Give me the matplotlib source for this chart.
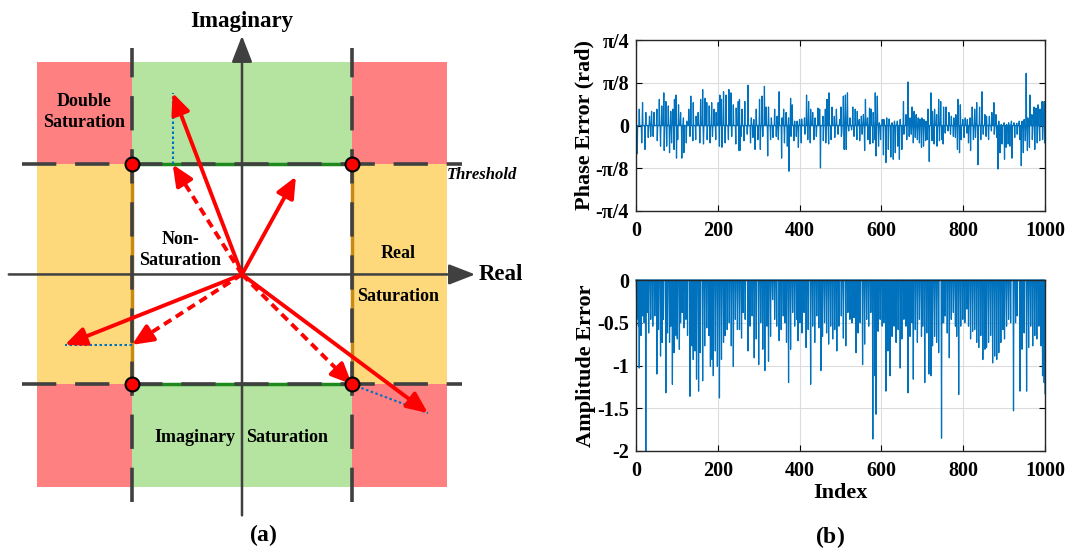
import numpy as np
import matplotlib.pyplot as plt
from matplotlib.patches import Rectangle

plt.rcParams['font.family'] = ['Liberation Serif', 'DejaVu Serif']
plt.rcParams['font.weight'] = 'bold'
plt.rcParams['axes.unicode_minus'] = False
plt.rcParams['mathtext.fontset'] = 'custom'
plt.rcParams['mathtext.rm'] = 'Liberation Serif'
plt.rcParams['mathtext.bf'] = 'Liberation Serif:bold'

# ---- (a) saturation regions in the IQ plane ----
T = 1.0                      # clipping threshold
region_x, region_y = 1.86, 1.93
vectors = np.array([[-0.63, 1.65], [0.49, 0.89], [-1.61, -0.64], [1.69, -1.26]])

# ---- (b) phase / amplitude error per sample ----
N = 1000
phase_pos_idx = [0, 8, 16, 24, 33, 38, 44, 51, 57, 63, 68, 73, 79, 85, 90, 94, 98, 104, 109, 116,
                 124, 129, 134, 140, 147, 152, 158, 163, 169, 173, 179, 185, 191, 196, 201, 205, 209,
                 214, 220, 227, 232, 238, 245, 250, 253, 259, 266, 274, 282, 288, 294, 302, 308, 314,
                 318, 324, 331, 339, 345, 350, 357, 361, 367, 373, 378, 382, 388, 394, 400, 405, 412,
                 417, 422, 427, 432, 438, 445, 449, 457, 463, 467, 472, 479, 485, 490, 498, 503, 501,
                 507, 512, 517, 523, 530, 536, 541, 546, 551, 556, 561, 566, 571, 575, 580, 585, 590,
                 595, 602, 606, 613, 619, 626, 632, 639, 646, 654, 660, 665, 670, 675, 680, 685, 690,
                 694, 699, 704, 709, 714, 721, 725, 730, 735, 740, 745, 751, 752, 758, 765, 771, 777,
                 782, 787, 793, 799, 805, 810, 817, 822, 828, 833, 840, 846, 853, 857, 864, 870, 875,
                 880, 887, 893, 900, 906, 911, 918, 924, 931, 937, 944, 949, 954, 958, 963, 968, 973,
                 978, 983, 988, 993, 998]
phase_pos_val = [0.10, 0.15, 0.21, 0.12, 0.085, 0.13, 0.12, 0.15, 0.24, 0.18, 0.30, 0.22, 0.18, 0.13,
                 0.15, 0.24, 0.28, 0.19, 0.12, 0.07, 0.04, 0.15, 0.27, 0.21, 0.085, 0.12, 0.24, 0.33,
                 0.25, 0.21, 0.18, 0.21, 0.15, 0.12, 0.21, 0.28, 0.24, 0.31, 0.28, 0.33, 0.30, 0.19,
                 0.16, 0.22, 0.24, 0.15, 0.22, 0.37, 0.07, 0.055, 0.15, 0.24, 0.27, 0.36, 0.17, 0.17,
                 0.07, 0.15, 0.085, 0.31, 0.07, 0.15, 0.12, 0.07, 0.25, 0.19, 0.04, 0.04, 0.055, 0.06,
                 0.07, 0.28, 0.22, 0.15, 0.12, 0.07, 0.16, 0.15, 0.085, 0.15, 0.24, 0.30, 0.17, 0.085,
                 0.15, 0.055, 0.17, 0.17, 0.27, 0.28, 0.30, 0.07, 0.17, 0.15, 0.13, 0.055, 0.085, 0.10,
                 0.24, 0.07, 0.16, 0.15, 0.12, 0.30, 0.27, 0.025, 0.055, 0.055, 0.07, 0.06, 0.025, 0.04,
                 0.04, 0.055, 0.22, 0.10, 0.40, 0.07, 0.17, 0.13, 0.10, 0.07, 0.06, 0.07, 0.055, 0.04,
                 0.15, 0.30, 0.13, 0.15, 0.10, 0.24, 0.22, 0.15, 0.17, 0.17, 0.12, 0.085, 0.07, 0.10,
                 0.24, 0.19, 0.055, 0.07, 0.055, 0.07, 0.17, 0.15, 0.21, 0.17, 0.31, 0.10, 0.085, 0.085,
                 0.12, 0.21, 0.10, 0.04, 0.01, 0.025, 0.01, 0.025, 0.04, 0.025, 0.02, 0.04, 0.04, 0.055,
                 0.48, 0.07, 0.28, 0.10, 0.17, 0.16, 0.19, 0.15, 0.22, 0.22]
phase_neg_idx = [3, 14, 22, 30, 36, 42, 52, 60, 69, 75, 82, 87, 93, 99, 102, 112, 117, 123, 132, 139,
                 146, 156, 165, 174, 181, 187, 195, 204, 210, 218, 226, 234, 244, 254, 252, 257, 264,
                 272, 280, 286, 291, 298, 304, 310, 322, 329, 335, 343, 348, 356, 363, 370, 374, 379,
                 386, 392, 397, 404, 413, 420, 426, 435, 441, 451, 458, 464, 471, 477, 486, 494, 502,
                 503, 509, 514, 520, 527, 533, 540, 547, 553, 559, 567, 572, 579, 584, 587, 593, 598,
                 605, 611, 617, 623, 629, 634, 640, 644, 650, 655, 662, 668, 673, 678, 683, 688, 693,
                 698, 703, 708, 712, 717, 724, 729, 736, 742, 748, 751, 756, 763, 769, 776, 781, 786,
                 791, 795, 802, 809, 813, 818, 825, 830, 836, 843, 849, 856, 862, 869, 876, 882, 885,
                 890, 895, 901, 905, 910, 914, 919, 926, 932, 938, 942, 947, 952, 957, 962, 969, 975,
                 981, 987, 994, 999]
phase_neg_val = [-0.26, -0.16, -0.22, -0.11, -0.10, -0.10, -0.14, -0.19, -0.23, -0.19, -0.25, -0.16,
                 -0.22, -0.30, -0.13, -0.30, -0.25, -0.16, -0.10, -0.14, -0.13, -0.16, -0.17, -0.13,
                 -0.16, -0.10, -0.13, -0.19, -0.20, -0.16, -0.13, -0.10, -0.17, -0.23, -0.23, -0.10,
                 -0.14, -0.08, -0.16, -0.11, -0.22, -0.13, -0.22, -0.10, -0.28, -0.13, -0.11, -0.10,
                 -0.13, -0.30, -0.16, -0.19, -0.42, -0.10, -0.14, -0.10, -0.20, -0.16, -0.08, -0.13,
                 -0.16, -0.13, -0.10, -0.39, -0.14, -0.16, -0.17, -0.13, -0.11, -0.08, -0.10, -0.08,
                 -0.22, -0.22, -0.05, -0.04, -0.10, -0.13, -0.14, -0.08, -0.23, -0.13, -0.17, -0.16,
                 -0.13, -0.28, -0.19, -0.13, -0.27, -0.34, -0.22, -0.29, -0.31, -0.25, -0.19, -0.31,
                 -0.22, -0.08, -0.13, -0.10, -0.08, -0.16, -0.11, -0.13, -0.16, -0.20, -0.19, -0.14,
                 -0.13, -0.33, -0.14, -0.17, -0.19, -0.14, -0.13, -0.17, -0.07, -0.05, -0.08, -0.10,
                 -0.11, -0.22, -0.25, -0.13, -0.11, -0.07, -0.16, -0.23, -0.13, -0.11, -0.36, -0.13,
                 -0.08, -0.10, -0.13, -0.05, -0.08, -0.11, -0.40, -0.25, -0.17, -0.31, -0.20, -0.17,
                 -0.19, -0.30, -0.11, -0.08, -0.13, -0.37, -0.25, -0.14, -0.23, -0.20, -0.13, -0.22,
                 -0.16, -0.14, -0.13, -0.16]

amp_idx = [2, 6, 8, 12, 16, 20, 24, 28, 31, 36, 41, 46, 51, 55, 60, 64, 67, 73, 77, 82, 85, 89, 93,
           98, 101, 106, 109, 113, 117, 122, 126, 132, 137, 140, 144, 148, 153, 157, 163, 168, 173,
           178, 182, 186, 189, 194, 199, 204, 209, 214, 218, 223, 228, 233, 238, 243, 248, 253, 258,
           262, 267, 274, 279, 284, 289, 294, 300, 305, 310, 315, 320, 324, 329, 334, 339, 344, 350,
           355, 360, 364, 368, 373, 378, 383, 388, 393, 396, 401, 406, 411, 416, 421, 427, 432, 437,
           442, 447, 452, 456, 461, 466, 471, 476, 481, 486, 491, 496, 502, 507, 513, 518, 523, 528,
           533, 538, 543, 548, 554, 559, 564, 569, 574, 579, 584, 587, 592, 597, 602, 606, 611, 616,
           621, 626, 631, 636, 641, 646, 650, 655, 660, 665, 670, 675, 678, 683, 688, 693, 698, 701,
           706, 711, 716, 721, 725, 730, 735, 740, 747, 750, 752, 756, 761, 766, 771, 776, 781, 784,
           789, 794, 799, 804, 809, 813, 818, 823, 828, 833, 838, 843, 848, 853, 857, 862, 867, 872,
           877, 882, 887, 892, 897, 901, 906, 911, 916, 923, 928, 932, 939, 944, 949, 955, 960, 965,
           970, 975, 980, 985, 990, 994, 998, 1000]
amp_val = [-0.46, -0.54, -1.03, -0.65, -0.42, -0.50, -2.00, -0.38, -0.62, -0.46, -0.54, -0.42, -1.10,
           -0.58, -0.89, -0.73, -0.46, -1.32, -0.62, -0.73, -0.54, -1.22, -0.85, -0.65, -0.69, -0.81,
           -0.50, -0.38, -0.56, -0.46, -0.65, -1.36, -0.77, -0.93, -0.83, -1.16, -1.30, -0.85, -1.18,
           -0.77, -0.56, -0.65, -1.01, -0.93, -1.12, -0.83, -1.01, -1.38, -0.93, -0.73, -0.65, -0.58,
           -0.50, -0.77, -1.01, -0.46, -0.58, -0.58, -0.68, -0.38, -0.46, -0.83, -0.54, -0.42, -0.91,
           -0.69, -0.99, -0.50, -0.81, -1.06, -0.54, -0.95, -0.66, -0.23, -0.46, -0.54, -0.71, -0.58,
           -0.42, -0.50, -0.73, -1.20, -0.81, -0.38, -0.54, -0.46, -0.71, -0.50, -0.62, -0.38, -0.79,
           -0.58, -1.22, -0.54, -0.73, -0.42, -0.56, -1.06, -0.66, -0.50, -0.62, -0.75, -0.54, -0.69,
           -0.58, -0.83, -0.54, -0.42, -0.68, -0.77, -0.38, -0.46, -0.50, -0.44, -0.85, -0.62, -0.50,
           -0.99, -0.75, -0.46, -0.54, -0.38, -1.86, -1.12, -1.57, -0.60, -0.46, -0.54, -0.50, -1.30,
           -0.83, -1.12, -0.66, -0.54, -0.73, -0.58, -1.03, -0.69, -0.46, -0.54, -1.32, -0.66, -0.50,
           -1.16, -0.58, -0.73, -0.46, -0.66, -0.54, -1.20, -0.62, -1.10, -1.12, -0.77, -0.66, -0.73,
           -0.85, -1.85, -0.50, -0.50, -0.42, -0.62, -0.91, -0.46, -0.38, -0.54, -0.66, -1.34, -0.54,
           -0.46, -0.50, -0.34, -0.54, -0.69, -0.60, -0.58, -0.73, -0.79, -0.65, -0.93, -0.81, -0.79,
           -0.73, -0.65, -0.97, -0.89, -0.93, -0.85, -0.73, -0.58, -0.69, -0.54, -0.46, -0.50, -1.53,
           -0.50, -0.42, -1.30, -0.81, -0.62, -1.30, -0.79, -0.54, -0.77, -0.65, -0.69, -0.54, -0.77,
           -1.12, -1.20, -1.33]

index = np.arange(N + 1)
phase_err = np.zeros(N + 1)
phase_err[phase_pos_idx] = phase_pos_val
phase_err[phase_neg_idx] = phase_neg_val
amp_err = np.zeros(N + 1)
amp_err[amp_idx] = amp_val

fig = plt.figure(figsize=(10.69, 5.51), dpi=100)

# ================= (a) =================
ax = fig.add_axes([0, 0, 540 / 1069, 1])
ax.set_xlim(-2.2, 2.709)
ax.set_ylim(-2.514, 2.495)
ax.axis('off')

red, green, yellow = '#FF8080', '#B4E4A0', '#FDD97C'
for sx in (-1, 1):
    for sy in (-1, 1):
        ax.add_patch(Rectangle((min(sx * T, sx * region_x), min(sy * T, sy * region_y)),
                               region_x - T, region_y - T, color=red, lw=0, zorder=0))
for sy in (-1, 1):
    ax.add_patch(Rectangle((-T, min(sy * T, sy * region_y)), 2 * T, region_y - T,
                           color=green, lw=0, zorder=0))
for sx in (-1, 1):
    ax.add_patch(Rectangle((min(sx * T, sx * region_x), -T), region_x - T, 2 * T,
                           color=yellow, lw=0, zorder=0))

# threshold lines
for s in (-1, 1):
    ax.plot([-T, T], [s * T, s * T], color='#1E8A1E', lw=2.5, zorder=1)
    ax.plot([s * T, s * T], [-T, T], color='#C88A10', lw=2.5, zorder=1)
dash = (0, (9.5, 5.2))
for s in (-1, 1):
    ax.plot([-2.0, 2.0], [s * T, s * T], color='#404040', lw=2.6, ls=dash, zorder=2)
    ax.plot([s * T, s * T], [-2.07, 2.06], color='#404040', lw=2.6, ls=dash, zorder=2)

# axes with arrow heads
ax_style = dict(arrowstyle='-|>,head_length=0.9,head_width=0.35', color='#404040',
                lw=1.8, mutation_scale=18, shrinkA=0, shrinkB=0)
ax.annotate('', xy=(2.12, 0), xytext=(-2.12, 0), arrowprops=ax_style, zorder=3)
ax.annotate('', xy=(0, 2.17), xytext=(0, -2.19), arrowprops=ax_style, zorder=3)

head = '-|>,head_length=0.9,head_width=0.4'
for v in vectors:
    ax.annotate('', xy=v, xytext=(0, 0), zorder=5,
                arrowprops=dict(arrowstyle=head, color='red', lw=2.8,
                                mutation_scale=14, shrinkA=0, shrinkB=0))
    c = np.clip(v, -T, T)
    if np.allclose(c, v):
        continue
    u = c / np.hypot(*c)
    ax.plot([0, c[0] - 0.12 * u[0]], [0, c[1] - 0.12 * u[1]], color='red', lw=2.8,
            ls=(0, (2.2, 1.4)), zorder=5)
    ax.annotate('', xy=c, xytext=c - 0.14 * u, zorder=5,
                arrowprops=dict(arrowstyle=head, color='red', lw=2.8,
                                mutation_scale=14, shrinkA=0, shrinkB=0))
    ax.plot([c[0], v[0]], [c[1], v[1]], color='#0070C0', lw=1.5, ls=(0, (1.2, 1.2)), zorder=4)

for sx in (-1, 1):
    for sy in (-1, 1):
        ax.plot(sx * T, sy * T, 'o', ms=10, mfc='red', mec='black', mew=1.5, zorder=6)

tkw = dict(fontsize=13, fontweight='bold', ha='center', va='center', zorder=7)
ax.text(-1.44, 1.48, 'Double\nSaturation', linespacing=1.3, **tkw)
ax.text(-0.56, 0.22, 'Non-\nSaturation', linespacing=1.3, **tkw)
ax.text(1.42, 0.19, 'Real', **tkw)
ax.text(1.42, -0.20, 'Saturation', **tkw)
ax.text(-0.43, -1.48, 'Imaginary', **tkw)
ax.text(0.41, -1.48, 'Saturation', **tkw)
ax.text(1.86, 0.90, 'Threshold', fontsize=12, fontweight='bold', style='italic',
        ha='left', va='center')
ax.text(0, 2.30, 'Imaginary', fontsize=16.5, fontweight='bold', ha='center', va='center')
ax.text(2.15, 0, 'Real', fontsize=16.5, fontweight='bold', ha='left', va='center')
ax.text(0.19, -2.37, r'($\mathbf{a}$)', fontsize=17, ha='center', va='center')

# ================= (b) =================
blue = '#0072BD'


def style(a):
    a.set_xlim(0, N)
    a.set_xticks(range(0, N + 1, 200))
    a.grid(True, color='#DCDCDC', lw=0.8)
    a.tick_params(direction='in', length=4, top=True, right=True, labelsize=14.5)
    a.tick_params(axis='x', pad=7)
    a.tick_params(axis='y', pad=5)
    for lab in a.get_xticklabels() + a.get_yticklabels():
        lab.set_fontweight('bold')
    for sp in a.spines.values():
        sp.set_color('#262626')
        sp.set_linewidth(1.0)


ax1 = fig.add_axes([636 / 1069, 1 - 211 / 551, 409 / 1069, 171 / 551])
ax1.plot(index, phase_err, color=blue, lw=0.9)
ax1.set_ylim(-np.pi / 4, np.pi / 4)
ax1.set_yticks(np.arange(-2, 3) * np.pi / 8)
ax1.set_yticklabels(['-π/4', '-π/8', '0', 'π/8', 'π/4'])
style(ax1)
ax1.set_ylabel('Phase Error (rad)', fontsize=16, fontweight='bold', labelpad=1)

ax2 = fig.add_axes([636 / 1069, 1 - 451 / 551, 409 / 1069, 171 / 551])
ax2.plot(index, amp_err, color=blue, lw=0.9, clip_on=False)
ax2.set_ylim(-2, 0)
ax2.set_yticks([-2, -1.5, -1, -0.5, 0])
ax2.set_yticklabels(['-2', '-1.5', '-1', '-0.5', '0'])
style(ax2)
ax2.set_ylabel('Amplitude Error', fontsize=16, fontweight='bold', labelpad=1)
ax2.set_xlabel('Index', fontsize=16, fontweight='bold', labelpad=2)

fig.text(830 / 1069, 1 - 537 / 551, r'($\mathbf{b}$)', fontsize=17, ha='center', va='center')

fig.savefig('out.png', dpi=100)
